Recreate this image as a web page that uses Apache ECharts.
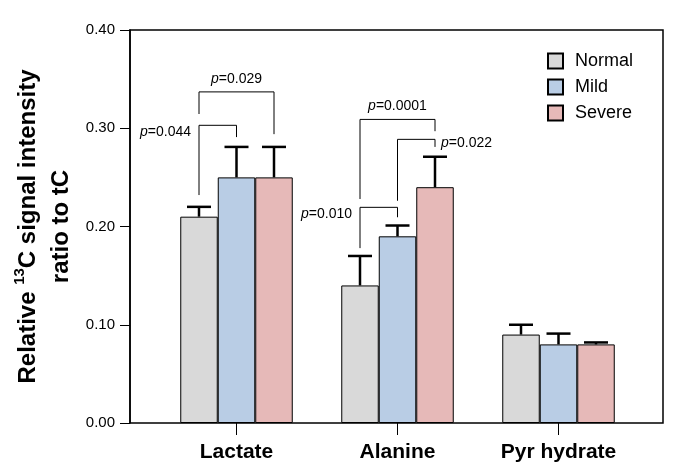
<!DOCTYPE html>
<html>
<head>
<meta charset="utf-8">
<script src="https://cdn.jsdelivr.net/npm/echarts@6/dist/echarts.min.js"></script>
<style>html,body{margin:0;padding:0;background:#fff}#c{width:685px;height:476px}</style>
</head>
<body>
<div id="c"></div>
<script>
// ---- data ----
const categories = ['Lactate', 'Alanine', 'Pyr hydrate'];
const groups = ['Normal', 'Mild', 'Severe'];
const normalMean = [0.21, 0.14, 0.090];
const mildMean   = [0.25, 0.19, 0.080];
const severeMean = [0.25, 0.24, 0.080];
const normalUpper = [0.220, 0.170, 0.100];
const mildUpper   = [0.281, 0.201, 0.091];
const severeUpper = [0.281, 0.271, 0.082];
const yTicks = [0, 0.1, 0.2, 0.3, 0.4];
// significance brackets: [category, fromBar, toBar, topValue, leftLegBottom, rightLegBottom]
const brackets = [
  [0, 0, 1, 0.303, 0.232, 0.291],
  [0, 0, 2, 0.337, 0.3145, 0.294],
  [1, 0, 1, 0.2195, 0.178, 0.2094],
  [1, 0, 2, 0.309, 0.228, 0.297],
  [1, 1, 2, 0.2887, 0.2262, 0.281]
];
const bracketLabels = ['0.044', '0.029', '0.010', '0.0001', '0.022'];
const bracketLabelPos = ['left', 'top', 'left', 'top', 'right'];

const means = [normalMean, mildMean, severeMean];
const uppers = [normalUpper, mildUpper, severeUpper];
const colors = ['#d9d9d9', '#b9cde5', '#e6b9b8'];
const FONT = '"Liberation Sans", Arial, sans-serif';
const BAR_W = 37.5;

const errData = [];
for (let g = 0; g < 3; g++) {
  for (let c = 0; c < categories.length; c++) {
    errData.push([c, g, means[g][c], uppers[g][c]]);
  }
}

const barSeries = groups.map((name, g) => ({
  name: name,
  type: 'bar',
  xAxisIndex: 1, yAxisIndex: 1,
  barWidth: BAR_W,
  barGap: '0%',
  data: means[g],
  itemStyle: { color: colors[g], borderColor: '#000', borderWidth: 1 },
  z: 2
}));

const chart = echarts.init(document.getElementById('c'), null, { renderer: 'canvas' });
chart.setOption({
  animation: false,
  backgroundColor: '#fff',
  textStyle: { fontFamily: FONT },
  grid: [
    { left: 130, right: 22, top: 30, bottom: 53, show: true, borderColor: '#000', borderWidth: 1.5, backgroundColor: 'transparent' },
    { left: 156, right: 46, top: 30, bottom: 53 }
  ],
  legend: {
    data: groups,
    orient: 'vertical',
    left: 542, top: 47,
    itemWidth: 15, itemHeight: 15, itemGap: 8,
    icon: 'rect',
    textStyle: { fontSize: 18, color: '#000', fontFamily: FONT, padding: [0, 0, 0, 7], lineHeight: 18 }
  },
  xAxis: [
    { gridIndex: 0, type: 'value', min: 0, max: 1, show: false },
    {
      gridIndex: 1, type: 'category', data: categories,
      axisLine: { show: false },
      axisTick: { show: true, alignWithLabel: true, length: 12, lineStyle: { color: '#000', width: 1 } },
      axisLabel: { color: '#000', fontSize: 21, fontWeight: 'bold', margin: 19, fontFamily: FONT }
    }
  ],
  yAxis: [
    {
      gridIndex: 0, type: 'value', min: 0, max: 0.4, interval: 0.1,
      splitLine: { show: false },
      axisLine: { show: true, lineStyle: { color: '#000', width: 1.5 } },
      axisTick: { show: true, length: 10, lineStyle: { color: '#000', width: 1 } },
      axisLabel: { color: '#000', fontSize: 15, margin: 15, fontFamily: FONT, formatter: v => v.toFixed(2) },
      name: '{a|Relative }{s|13}{a|C signal intensity}\n{a|ratio to tC}',
      nameLocation: 'middle',
      nameGap: 52,
      nameTextStyle: {
        color: '#000',
        rich: {
          a: { fontSize: 24, fontWeight: 'bold', lineHeight: 33, fontFamily: FONT, color: '#000' },
          s: { fontSize: 15, fontWeight: 'bold', lineHeight: 24, verticalAlign: 'top', fontFamily: FONT, color: '#000' }
        }
      }
    },
    { gridIndex: 1, type: 'value', min: 0, max: 0.4, interval: 0.1, show: false }
  ],
  series: [
    ...barSeries,
    {
      type: 'custom',
      name: 'err',
      xAxisIndex: 1, yAxisIndex: 1,
      z: 3,
      encode: { x: 0, y: 3 },
      data: errData,
      renderItem: function (params, api) {
        const c = api.value(0), g = api.value(1);
        const base = api.coord([c, api.value(2)]);
        const top = api.coord([c, api.value(3)]);
        const x = base[0] + (g - 1) * BAR_W;
        const hw = 12;
        return {
          type: 'group',
          children: [
            { type: 'line', shape: { x1: x, y1: base[1], x2: x, y2: top[1] }, style: { stroke: '#000', lineWidth: 2.5 } },
            { type: 'line', shape: { x1: x - hw, y1: top[1], x2: x + hw, y2: top[1] }, style: { stroke: '#000', lineWidth: 2.5 } }
          ]
        };
      }
    },
    {
      type: 'custom',
      name: 'sig',
      xAxisIndex: 1, yAxisIndex: 1,
      z: 4,
      encode: { x: 0, y: 3 },
      data: brackets,
      renderItem: function (params, api) {
        const c = api.value(0);
        const f = api.value(1), t = api.value(2);
        const cx = api.coord([c, 0])[0];
        const xl = cx + (f - 1) * BAR_W;
        const xr = cx + (t - 1) * BAR_W;
        const yT = api.coord([c, api.value(3)])[1];
        const yL = api.coord([c, api.value(4)])[1];
        const yR = api.coord([c, api.value(5)])[1];
        const pos = bracketLabelPos[params.dataIndex];
        let tx, ty, align;
        if (pos === 'top') { tx = (xl + xr) / 2; ty = yT - 13; align = 'center'; }
        else if (pos === 'left') { tx = xl - 8; ty = yT + 7; align = 'right'; }
        else { tx = xr + 6; ty = yT + 4; align = 'left'; }
        return {
          type: 'group',
          children: [
            { type: 'polyline', shape: { points: [[xl, yL], [xl, yT], [xr, yT], [xr, yR]] }, style: { stroke: '#000', lineWidth: 1, fill: null } },
            {
              type: 'text',
              style: {
                x: tx, y: ty,
                text: '{i|p}{n|=' + bracketLabels[params.dataIndex] + '}',
                align: align, verticalAlign: 'middle',
                fill: '#000',
                rich: {
                  i: { fontStyle: 'italic', fontSize: 14, fontFamily: FONT, fill: '#000' },
                  n: { fontSize: 14, fontFamily: FONT, fill: '#000' }
                }
              }
            }
          ]
        };
      }
    }
  ]
});
</script>
</body>
</html>
